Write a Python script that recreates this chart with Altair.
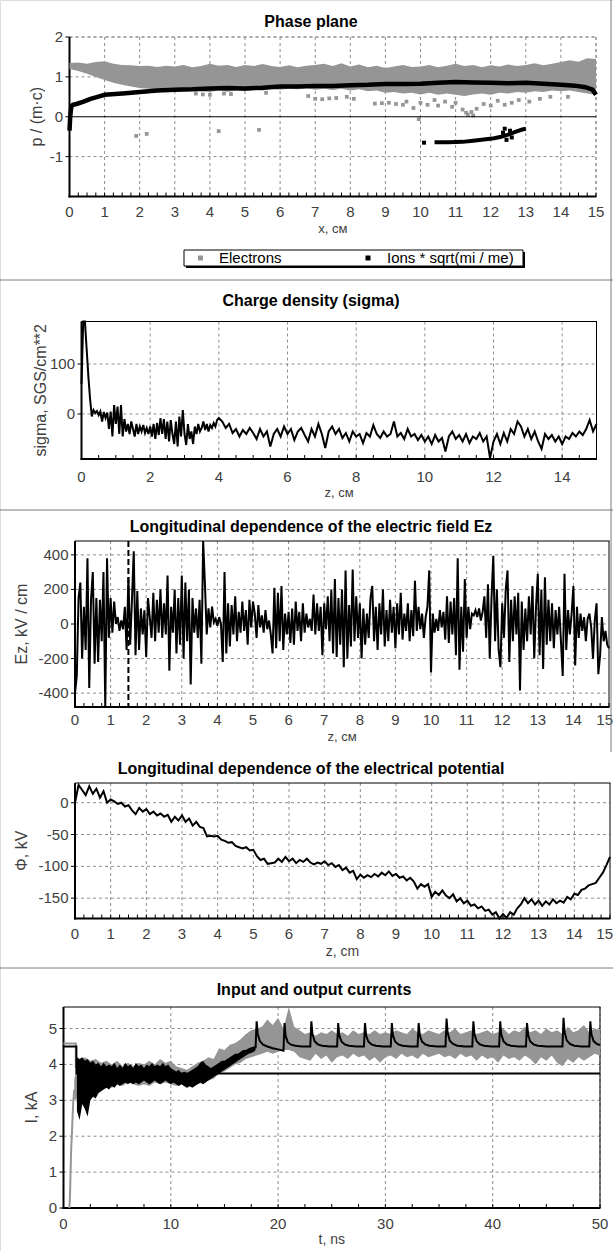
import altair as alt
import pandas as pd

FONT = "Liberation Sans"
GRAY = "#959595"
GRID = "#8c8c8c"
LAB = "#404040"
ONE = pd.DataFrame({"k": [0]})

# ---------------- Panel 1: phase plane ----------------
band_x = [round(i * 0.25, 2) for i in range(61)]
electron_hi = [1.35, 1.36, 1.33, 1.37, 1.39, 1.33, 1.30, 1.29, 1.27, 1.28,
               1.25, 1.28, 1.26, 1.30, 1.24, 1.27, 1.33, 1.28, 1.30, 1.25,
               1.30, 1.27, 1.32, 1.27, 1.25, 1.29, 1.24, 1.28, 1.30, 1.33,
               1.27, 1.34, 1.26, 1.31, 1.24, 1.28, 1.22, 1.26, 1.30, 1.25,
               1.26, 1.30, 1.24, 1.28, 1.33, 1.27, 1.30, 1.24, 1.29, 1.26,
               1.31, 1.27, 1.30, 1.34, 1.29, 1.33, 1.37, 1.42, 1.38, 1.47,
               1.45]
electron_lo = [1.20, 1.15, 1.08, 1.00, 0.92, 0.85, 0.80, 0.76, 0.72, 0.70,
               0.69, 0.68, 0.69, 0.70, 0.66, 0.64, 0.62, 0.66, 0.63, 0.66,
               0.64, 0.68, 0.66, 0.70, 0.68, 0.71, 0.69, 0.72, 0.68, 0.70,
               0.67, 0.70, 0.66, 0.69, 0.64, 0.66, 0.60, 0.62, 0.58, 0.60,
               0.56, 0.60, 0.55, 0.58, 0.55, 0.52, 0.56, 0.58, 0.55, 0.60,
               0.58, 0.62, 0.60, 0.64, 0.62, 0.66, 0.64, 0.66, 0.62, 0.58,
               0.55]
electron_pts_x = [3.6, 3.8, 4.0, 4.4, 4.6, 5.6, 6.8, 7.0, 7.2, 7.4, 7.6, 7.9, 8.1, 8.7, 8.9,
                  9.1, 9.3, 9.5, 9.6, 9.8, 10.0, 10.2, 10.4, 10.5, 10.7, 10.9, 11.0, 11.2,
                  11.3, 11.35, 11.45, 11.5, 11.6, 11.8, 12.0, 12.2, 12.4, 12.6, 12.8, 13.1,
                  13.4, 13.7, 14.2, 1.9, 2.2, 4.25, 5.4, 9.95]
electron_pts_p = [0.58, 0.56, 0.55, 0.58, 0.57, 0.60, 0.52, 0.45, 0.44, 0.46, 0.47, 0.50, 0.45,
                  0.33, 0.34, 0.35, 0.32, 0.30, 0.38, 0.22, 0.35, 0.30, 0.42, 0.28, 0.38, 0.25,
                  0.35, 0.18, 0.10, 0.05, 0.12, 0.03, 0.20, 0.32, 0.28, 0.40, 0.30, 0.35, 0.42,
                  0.38, 0.45, 0.50, 0.50, -0.48, -0.43, -0.36, -0.33, -0.06]
ion_x = [0.0, 0.02, 0.05, 0.1, 0.2, 0.4, 0.6, 0.8, 1.0, 1.3, 1.6, 2.0, 2.5, 3.0, 3.5, 4.0, 4.5,
         5.0, 5.5, 6.0, 6.5, 7.0, 7.5, 8.0, 8.5, 9.0, 9.5, 10.0, 10.5, 11.0, 11.5, 12.0, 12.5,
         13.0, 13.5, 14.0, 14.4, 14.7, 14.9, 15.0]
ion_p = [-0.35, 0.0, 0.25, 0.30, 0.32, 0.38, 0.45, 0.50, 0.55, 0.57, 0.59, 0.62, 0.66, 0.68,
         0.69, 0.71, 0.72, 0.71, 0.73, 0.76, 0.76, 0.77, 0.77, 0.79, 0.80, 0.82, 0.82, 0.83,
         0.85, 0.87, 0.86, 0.85, 0.84, 0.85, 0.83, 0.80, 0.78, 0.74, 0.68, 0.55]
ion_neg_x = [10.4, 10.8, 11.2, 11.5, 11.8, 12.1, 12.3, 12.5, 12.7, 12.9, 13.0]
ion_neg_p = [-0.64, -0.64, -0.63, -0.60, -0.57, -0.54, -0.50, -0.45, -0.38, -0.32, -0.30]
ion_pts_x = [10.1, 12.35, 12.45, 12.55, 12.6, 12.4]
ion_pts_p = [-0.65, -0.40, -0.58, -0.35, -0.52, -0.30]

# ---------------- Panel 2: charge density ----------------
sigma_z = [round(i * 0.05, 2) for i in range(81)] + [round(4.1 + i * 0.1, 1) for i in range(110)]
sigma_v = [60, 210, 190, 130, 75, 30, -5, 8, 2, 6, -2, 5, -15, 4, -8, 3, -30, 5, -45, 18,
           -20, 15, -40, 18, -45, -10, -35, -20, -40, -15, -30, -45, -20, -40, -25, -35, -22, -38, -28, -40,
           -25, -45, -20, -50, -18, -42, -8, -40, -10, -50, -15, -55, -12, -40, -60, -15, -65, -5, -45, 8,
           -40, -62, -20, -50, -35, -60, -25, -40, -20, -35, -28, -15, -32, -20, -35, -22, -28, -18, -25, -12,
           -8,
           -15, -28, -20, -38, -30, -45, -32, -40, -28, -38,
           -50, -30, -45, -35, -65, -40, -30, -45, -25, -40,
           -30, -52, -35, -28, -42, -55, -30, -45, -20, -40,
           -68, -35, -25, -40, -30, -48, -38, -55, -35, -45,
           -40, -58, -38, -45, -22, -40, -48, -35, -45, -40,
           -15, -45, -38, -50, -30, -45, -40, -52, -42, -55,
           -45, -60, -42, -55, -48, -75, -45, -35, -50, -42,
           -55, -40, -58, -45, -50, -38, -55, -45, -88, -55,
           -40, -60, -38, -55, -30, -40, -15, -25, -45, -30,
           -50, -35, -55, -70, -40, -50, -42, -55, -45, -60,
           -45, -50, -38, -45, -35, -42, -30, -12, -35, -20]

# ---------------- Panel 3: electric field ----------------
ez_z = [round(i * 0.05, 2) for i in range(301)]
ez_v = [-400, -300, 150, 240, -200, 100, -150, 380, -370, 140, 300, -230, 150, -220, 140, -100, 300, -488, 380, -80,
        150, -50, 130, 0, 40, -40, 20, -30, 100, -150, 270, -120, 140, 420, -180, 190, -150, 90, -60, 80,
        -190, 150, 40, -80, 180, -100, 140, -50, 200, -80, 120, -60, 280, -270, 100, -50, 200, -170, 150, -120,
        280, -200, 240, -100, 200, -350, 150, -50, 90, -80, 140, -230, 488, 230, -60, 90, -20, 100, 10, 30,
        -10, 40, 0, -220, 300, -170, 120, -130, 110, -60, 160, -100, 70, -50, 130, -40, 80, -120, 140, -20,
        130, 60, -80, 110, -20, 50, -50, 80, -30, 20, -60, -170, 210, -140, 180, -100, 220, -150, 60, -60,
        70, -110, 90, -120, 130, -40, 70, -100, 120, -50, 60, -20, 30, -40, 170, -60, 120, -40, 100, -180,
        120, -30, 160, -100, 200, -170, 260, -190, 150, -120, 200, -250, 310, -200, 110, -130, 315, -100, 160, -80,
        120, -200, 90, -120, 60, -80, 150, 220, -100, 100, -150, 120, -60, 200, -130, 80, -100, 140, -50, 100,
        -140, 120, -60, 180, -90, 60, -40, 120, -100, 80, -70, 250, -40, 100, -30, 60, -80, 40, 100, 310,
        -280, 60, -50, 30, -40, 80, -20, 70, -90, 160, -110, 130, -60, 150, -180, 380, -265, 100, -160, 260,
        -80, 100, -30, 60, 50, 80, 40, 90, 20, 70, 160, -80, 230, -200, 150, 395, -100, 200, -150, -250,
        120, -80, 200, 310, -220, 140, -100, 160, -60, 180, -385, 130, -150, 90, -100, 160, -60, 220, -200, 100,
        290, -180, 200, -260, 270, -120, 140, -100, 120, -140, 80, -60, 100, -100, -300, 290, -150, 80, -60, 60,
        220, -240, 100, -80, 60, -40, 40, -100, 30, 60, -20, -200, 20, 120, -290, -180, 40, -100, -40, -120,
        -140]

# ---------------- Panel 4: potential ----------------
phi_z = [round(i * 0.1, 1) for i in range(151)]
phi_v = [0, 28, 20, 12, 26, 14, 22, 8, 18, 0,
         5, 2, -2, 0, -6, -4, -12, -18, -8, -14,
         -10, -18, -14, -20, -17, -22, -19, -30, -22, -28,
         -20, -30, -25, -36, -30, -38, -40, -53, -52, -53,
         -52, -58, -60, -63, -62, -68, -70, -72, -70, -75,
         -74, -84, -90, -88, -96, -95, -94, -88, -93, -85,
         -92, -88, -95, -90, -93, -88, -94, -97, -94, -96,
         -92, -98, -95, -101, -98, -106, -102, -110, -107, -120,
         -113, -118, -114, -117, -112, -116, -110, -114, -108, -115,
         -112, -118, -116, -122, -118, -124, -135, -128, -132, -128,
         -148, -140, -145, -138, -146, -150, -144, -155, -150, -158,
         -154, -162, -160, -166, -163, -170, -168, -176, -172, -183,
         -175, -181, -172, -176, -166, -160, -150, -158, -152, -160,
         -154, -162, -155, -160, -152, -158, -154, -157, -148, -152,
         -143, -145, -137, -135, -130, -128, -126, -118, -110, -98,
         -85]

# ---------------- Panel 5: currents ----------------
in_t = [0, 1.2, 1.2, 50]
in_i = [4.5, 4.5, 3.75, 3.75]
gstep_t = [0, 1.15, 1.15]
gstep_i = [4.58, 4.58, 3.9]
grise_t = [0.55, 0.6, 0.7, 0.8, 0.9, 1.0]
grise_i = [0.0, 0.3, 1.5, 2.2, 2.9, 3.3]
gband_t = [round(1.0 + 0.5 * i, 1) for i in range(99)]
gband_lo = [3.0, 3.1, 3.2, 3.2, 3.3, 3.35, 3.4, 3.35, 3.45, 3.4,
            3.5, 3.45, 3.4, 3.45, 3.4, 3.5, 3.45, 3.5, 3.45, 3.4,
            3.45, 3.35, 3.4, 3.45, 3.5, 3.55, 3.6, 3.75, 3.8, 3.9,
            4.0, 4.05, 4.15, 4.2, 4.25, 4.3, 4.35, 4.3, 4.35, 4.4,
            4.4, 4.35, 4.2, 4.15, 4.1, 4.3, 4.15, 4.25, 4.05, 4.2,
            4.25, 4.15, 4.3, 4.2, 4.25, 4.1, 4.2, 4.05, 4.2, 4.25,
            4.15, 4.3, 4.2, 4.25, 4.15, 4.3, 4.2, 4.25, 4.3, 4.2,
            4.25, 4.15, 4.3, 4.2, 4.25, 4.1, 4.25, 4.15, 4.2, 4.05,
            4.25, 4.15, 4.2, 4.1, 4.25, 4.15, 4.0, 4.2, 4.1, 4.25,
            4.05, 3.95, 4.15, 4.05, 4.2, 4.1, 4.2, 4.3, 4.25]
gband_hi = [3.6, 4.1, 4.2, 4.1, 4.15, 4.05, 4.1, 4.0, 4.1, 3.95,
            4.05, 3.95, 4.05, 4.0, 4.1, 4.0, 4.15, 4.05, 4.1, 3.95,
            3.9, 3.85, 3.95, 4.05, 4.1, 4.2, 4.15, 4.45, 4.4, 4.55,
            4.6, 4.7, 4.85, 4.95, 5.0, 5.05, 5.25, 5.1, 5.3, 5.0,
            5.6, 5.05, 4.95, 4.85, 4.9, 4.8, 4.9, 4.85, 4.95, 4.85,
            4.9, 4.8, 4.95, 4.85, 4.9, 4.85, 4.95, 4.85, 4.9, 4.85,
            4.95, 4.9, 4.85, 5.0, 4.9, 4.85, 4.95, 4.9, 4.85, 4.95,
            4.9, 5.0, 4.85, 4.9, 4.95, 4.85, 4.9, 4.95, 4.85, 4.9,
            5.0, 4.85, 4.95, 4.9, 5.05, 4.9, 4.95, 4.85, 5.0, 4.9,
            4.95, 4.85, 5.05, 4.9, 4.95, 5.1, 4.9, 5.0, 4.95]
bband_t = [round(1.25 + 0.25 * i, 2) for i in range(67)] + [17.9]
bband_lo = [2.7, 2.45, 2.9, 2.75, 2.55, 3.0, 3.1, 3.05, 3.2, 3.25,
            3.3, 3.35, 3.3, 3.4, 3.35, 3.45, 3.4, 3.45, 3.5, 3.45,
            3.5, 3.45, 3.5, 3.45, 3.5, 3.55, 3.5, 3.45, 3.5, 3.55,
            3.5, 3.45, 3.5, 3.55, 3.5, 3.45, 3.5, 3.45, 3.4, 3.45,
            3.4, 3.35, 3.4, 3.35, 3.4, 3.45, 3.5, 3.45, 3.5, 3.55,
            3.6, 3.65, 3.7, 3.75, 3.8, 3.85, 3.9, 3.95, 4.0, 4.05,
            4.1, 4.15, 4.2, 4.25, 4.3, 4.32, 4.35, 4.4]
bband_hi = [4.2, 4.15, 4.2, 4.1, 4.15, 4.05, 4.1, 4.0, 4.05, 3.95,
            4.05, 3.95, 4.0, 3.95, 4.05, 3.9, 4.0, 3.9, 4.05, 3.95,
            4.0, 3.9, 4.05, 3.95, 4.0, 3.9, 4.0, 3.95, 4.05, 3.95,
            4.0, 3.95, 4.05, 3.95, 4.0, 3.9, 3.85, 3.8, 3.85, 3.75,
            3.8, 3.75, 3.8, 3.85, 3.9, 3.95, 4.05, 4.1, 4.0, 3.95,
            3.9, 3.95, 4.0, 4.05, 4.1, 4.1, 4.15, 4.2, 4.25, 4.3,
            4.3, 4.35, 4.4, 4.4, 4.45, 4.48, 4.5, 4.5]
saw_t = [17.9, 18.0, 18.1, 18.3, 18.6, 19.0, 19.5, 20.0, 20.5,
         20.6, 20.7, 20.9, 21.2, 21.6, 22.2, 23.0,
         23.1, 23.2, 23.4, 23.7, 24.1, 24.8, 25.5,
         25.6, 25.7, 25.9, 26.2, 26.6, 27.3, 28.0,
         28.1, 28.2, 28.4, 28.7, 29.1, 29.8, 30.5,
         30.6, 30.7, 30.9, 31.2, 31.6, 32.3, 33.0,
         33.1, 33.2, 33.4, 33.7, 34.1, 34.8, 35.6,
         35.7, 35.8, 36.0, 36.3, 36.7, 37.4, 38.1,
         38.2, 38.3, 38.5, 38.8, 39.2, 39.9, 40.6,
         40.7, 40.8, 41.0, 41.3, 41.7, 42.4, 43.1,
         43.2, 43.3, 43.5, 43.8, 44.2, 45.0, 46.5,
         46.6, 46.7, 46.9, 47.2, 47.6, 48.3, 49.0,
         49.1, 49.2, 49.4, 49.7, 50.0]
saw_i = [4.45, 5.2, 4.85, 4.65, 4.55, 4.5, 4.45, 4.42, 4.38,
         5.15, 4.8, 4.62, 4.55, 4.52, 4.5, 4.5,
         5.2, 4.85, 4.65, 4.56, 4.52, 4.5, 4.5,
         5.15, 4.82, 4.64, 4.56, 4.52, 4.5, 4.5,
         5.15, 4.82, 4.64, 4.56, 4.52, 4.5, 4.5,
         5.15, 4.82, 4.64, 4.56, 4.52, 4.5, 4.5,
         5.15, 4.82, 4.64, 4.56, 4.52, 4.5, 4.5,
         5.28, 4.88, 4.66, 4.57, 4.52, 4.5, 4.5,
         5.2, 4.84, 4.65, 4.56, 4.52, 4.5, 4.5,
         5.2, 4.84, 4.65, 4.56, 4.52, 4.5, 4.5,
         5.15, 4.82, 4.64, 4.56, 4.52, 4.5, 4.5,
         5.3, 4.9, 4.67, 4.57, 4.52, 4.5, 4.5,
         5.2, 4.84, 4.65, 4.57, 4.54]

# ---------------- tick label arrays ----------------
x15_ticks = list(range(16))
x15_labels = [str(v) for v in x15_ticks]
x14_ticks = list(range(0, 15, 2))
x14_labels = [str(v) for v in x14_ticks]
t_ticks = list(range(0, 51, 10))
t_labels = [str(v) for v in t_ticks]
p_ticks = [2, 1, 0, -1]
sig_ticks = [100, 0]
ez_ticks = [400, 200, 0, -200, -400]
phi_ticks = [0, -50, -100, -150]
cur_ticks = [5, 4, 3, 2, 1, 0]

# ---------------- panel geometry (page pixels) ----------------
P1 = dict(l=69.5, r=596, t=37, b=196.5, xd=[0, 15], yd=[-2, 2])
P2 = dict(l=81.5, r=596.5, t=321.5, b=459, xd=[0, 15], yd=[-90, 185])
P3 = dict(l=75, r=609, t=541, b=707, xd=[0, 15], yd=[-480, 480])
P4 = dict(l=75, r=610, t=783, b=918.5, xd=[0, 15], yd=[-182, 31])
P5 = dict(l=63.5, r=600, t=1007, b=1208, xd=[0, 50], yd=[0, 5.6])


def S(dom, rng):
    return alt.Scale(domain=dom, range=rng, nice=False, zero=False, clamp=True)


def XF(p, f="x"):
    return alt.X(f"{f}:Q", scale=S(p["xd"], [p["l"], p["r"]]), axis=None)


def YF(p, f="y"):
    return alt.Y(f"{f}:Q", scale=S(p["yd"], [p["b"], p["t"]]), axis=None)


def hrule(x1, x2, y, color="black", w=1, dash=None):
    kw = dict(color=color, strokeWidth=w)
    if dash:
        kw["strokeDash"] = dash
    return alt.Chart(ONE).mark_rule(**kw).encode(x=alt.value(x1), x2=alt.value(x2), y=alt.value(y))


def vrule(x, y1, y2, color="black", w=1, dash=None):
    kw = dict(color=color, strokeWidth=w)
    if dash:
        kw["strokeDash"] = dash
    return alt.Chart(ONE).mark_rule(**kw).encode(x=alt.value(x), y=alt.value(y1), y2=alt.value(y2))


def box(x1, x2, y1, y2, color):
    return alt.Chart(ONE).mark_rect(color=color).encode(
        x=alt.value(x1), x2=alt.value(x2), y=alt.value(y1), y2=alt.value(y2))


def txt(s, x, y, size=15, weight="normal", align="center", angle=0, color="black"):
    return alt.Chart(ONE).mark_text(text=s, fontSize=size, fontWeight=weight, align=align,
                                    baseline="middle", angle=angle, font=FONT, color=color).encode(
        x=alt.value(x), y=alt.value(y))


def frame_layers(p, xticks, xlabels, xlab_y, yticks, minor, ygrid, dashed_frame=False):
    L = []
    L.append(alt.Chart(pd.DataFrame({"x": xticks})).mark_rule(
        color=GRID, strokeDash=[3, 3], strokeWidth=1).encode(
        x=XF(p), y=alt.value(p["t"]), y2=alt.value(p["b"])))
    L.append(alt.Chart(pd.DataFrame({"y": ygrid})).mark_rule(
        color=GRID, strokeDash=[3, 3], strokeWidth=1).encode(
        y=YF(p), x=alt.value(p["l"]), x2=alt.value(p["r"])))
    if dashed_frame:
        L.append(hrule(p["l"], p["r"], p["t"], GRID, 1, [3, 3]))
        L.append(vrule(p["r"], p["t"], p["b"], GRID, 1, [3, 3]))
    else:
        L.append(hrule(p["l"], p["r"] + 0.5, p["t"], "black", 1))
        L.append(vrule(p["r"], p["t"], p["b"], "black", 1))
    L.append(alt.Chart(pd.DataFrame({"x": minor})).mark_rule(color="black", strokeWidth=1).encode(
        x=XF(p), y=alt.value(p["b"] - 4), y2=alt.value(p["b"])))
    L.append(alt.Chart(pd.DataFrame({"y": yticks})).mark_rule(color="black", strokeWidth=1).encode(
        y=YF(p), x=alt.value(p["l"] - 4), x2=alt.value(p["l"])))
    L.append(vrule(p["l"], p["t"], p["b"] + 1, "black", 2))
    L.append(hrule(p["l"] - 1, p["r"] + 0.5, p["b"], "black", 2))
    L.append(alt.Chart(pd.DataFrame({"x": xticks, "t": xlabels})).mark_text(
        fontSize=15, font=FONT, color=LAB, baseline="middle", align="center").encode(
        x=XF(p), y=alt.value(xlab_y), text="t:N"))
    L.append(alt.Chart(pd.DataFrame({"y": yticks, "t": [str(v) for v in yticks]})).mark_text(
        fontSize=15, font=FONT, color=LAB, baseline="middle", align="right").encode(
        y=YF(p), x=alt.value(p["l"] - 6.5), text="t:N"))
    return L


layers = []

# ---- panel 1 ----
layers += frame_layers(P1, x15_ticks, x15_labels, 212, p_ticks,
                       [round(i * 0.25, 2) for i in range(61)], [2, 1, -1], dashed_frame=True)
layers += [
    alt.Chart(pd.DataFrame({"x": band_x, "y": electron_lo, "hi": electron_hi})).mark_area(
        color=GRAY).encode(x=XF(P1), y=YF(P1), y2="hi:Q"),
    alt.Chart(pd.DataFrame({"x": electron_pts_x, "y": electron_pts_p})).mark_square(
        color=GRAY, size=14, opacity=1).encode(x=XF(P1), y=YF(P1)),
    alt.Chart(pd.DataFrame({"y": [0]})).mark_rule(color="black", strokeWidth=1).encode(
        y=YF(P1), x=alt.value(P1["l"]), x2=alt.value(P1["r"])),
    alt.Chart(pd.DataFrame({"x": ion_x, "y": ion_p})).mark_line(
        color="black", strokeWidth=4.5).encode(x=XF(P1), y=YF(P1)),
    alt.Chart(pd.DataFrame({"x": ion_neg_x, "y": ion_neg_p})).mark_line(
        color="black", strokeWidth=4).encode(x=XF(P1), y=YF(P1)),
    alt.Chart(pd.DataFrame({"x": ion_pts_x, "y": ion_pts_p})).mark_square(
        color="black", size=16, opacity=1).encode(x=XF(P1), y=YF(P1)),
    txt("Phase plane", 311, 22, size=16, weight="bold"),
    txt("x, \u0441\u043c", (P1["l"] + P1["r"]) / 2, 229, size=13, color=LAB),
    txt("p / (m\u00b7c)", 37, (P1["t"] + P1["b"]) / 2, size=16, angle=270, color=LAB),
    # legend
    box(186, 525, 252, 268, "black"),
    alt.Chart(ONE).mark_rect(fill="white", stroke="black", strokeWidth=1).encode(
        x=alt.value(184), x2=alt.value(523), y=alt.value(250), y2=alt.value(266)),
    alt.Chart(ONE).mark_square(color=GRAY, size=25, opacity=1).encode(
        x=alt.value(200.5), y=alt.value(258)),
    txt("Electrons", 219, 258, size=15, align="left"),
    alt.Chart(ONE).mark_square(color="black", size=25, opacity=1).encode(
        x=alt.value(368), y=alt.value(258)),
    txt("Ions * sqrt(mi / me)", 387, 258, size=15, align="left"),
]

# ---- panel 2 ----
layers += frame_layers(P2, x14_ticks, x14_labels, 477, sig_ticks,
                       [round(i * 0.5, 1) for i in range(31)], [100, 0])
layers += [
    alt.Chart(pd.DataFrame({"x": sigma_z, "y": sigma_v})).mark_line(
        color="black", strokeWidth=2).encode(x=XF(P2), y=YF(P2)),
    txt("Charge density (sigma)", 311, 301, size=16, weight="bold"),
    txt("z, \u0441\u043c", (P2["l"] + P2["r"]) / 2, 493, size=13, color=LAB),
    txt("sigma, SGS/cm**2", 41, (P2["t"] + P2["b"]) / 2, size=16, angle=270, color=LAB),
]

# ---- panel 3 ----
layers += frame_layers(P3, x15_ticks[:-1], x15_labels[:-1], 720, ez_ticks,
                       [round(i * 0.25, 2) for i in range(61)], [400, 200, 0, -200, -400])
layers += [
    alt.Chart(pd.DataFrame({"x": ez_z, "y": ez_v})).mark_line(
        color="black", strokeWidth=2).encode(x=XF(P3), y=YF(P3)),
    alt.Chart(pd.DataFrame({"x": [1.5]})).mark_rule(
        color="black", strokeWidth=2, strokeDash=[6, 3]).encode(
        x=XF(P3), y=alt.value(P3["t"]), y2=alt.value(P3["b"])),
    alt.Chart(pd.DataFrame({"x": [15], "t": ["15"]})).mark_text(
        fontSize=15, font=FONT, color=LAB, baseline="middle", align="right", dx=4).encode(
        x=XF(P3), y=alt.value(720), text="t:N"),
    txt("Longitudinal dependence of the electric field Ez", 311, 527, size=16, weight="bold"),
    txt("z, \u0441\u043c", (P3["l"] + P3["r"]) / 2, 737, size=13, color=LAB),
    txt("Ez, kV / cm", 21.5, (P3["t"] + P3["b"]) / 2, size=16, angle=270, color=LAB),
]

# ---- panel 4 ----
layers += frame_layers(P4, x15_ticks[:-1], x15_labels[:-1], 934, phi_ticks,
                       [round(i * 0.25, 2) for i in range(61)], [0, -50, -100, -150])
layers += [
    alt.Chart(pd.DataFrame({"x": phi_z, "y": phi_v})).mark_line(
        color="black", strokeWidth=2).encode(x=XF(P4), y=YF(P4)),
    alt.Chart(pd.DataFrame({"x": [15], "t": ["15"]})).mark_text(
        fontSize=15, font=FONT, color=LAB, baseline="middle", align="right", dx=3).encode(
        x=XF(P4), y=alt.value(934), text="t:N"),
    txt("Longitudinal dependence of the electrical potential", 311, 769, size=16, weight="bold"),
    txt("z, cm", (P4["l"] + P4["r"]) / 2, 952, size=14, color=LAB),
    txt("\u03a6, kV", 22, (P4["t"] + P4["b"]) / 2, size=16, angle=270, color=LAB),
]

# ---- panel 5 ----
layers += frame_layers(P5, t_ticks, t_labels, 1224, cur_ticks,
                       [round(i * 2.5, 1) for i in range(21)], [5, 4, 3, 2, 1])
layers += [
    alt.Chart(pd.DataFrame({"x": gband_t, "y": gband_lo, "hi": gband_hi})).mark_area(
        color=GRAY).encode(x=XF(P5), y=YF(P5), y2="hi:Q"),
    alt.Chart(pd.DataFrame({"x": gstep_t, "y": gstep_i})).mark_line(
        color=GRAY, strokeWidth=2).encode(x=XF(P5), y=YF(P5)),
    alt.Chart(pd.DataFrame({"x": grise_t, "y": grise_i})).mark_line(
        color=GRAY, strokeWidth=2).encode(x=XF(P5), y=YF(P5)),
    alt.Chart(pd.DataFrame({"x": bband_t, "y": bband_lo, "hi": bband_hi})).mark_area(
        color="black").encode(x=XF(P5), y=YF(P5), y2="hi:Q"),
    alt.Chart(pd.DataFrame({"x": in_t, "y": in_i})).mark_line(
        color="black", strokeWidth=2).encode(x=XF(P5), y=YF(P5)),
    alt.Chart(pd.DataFrame({"x": saw_t, "y": saw_i})).mark_line(
        color="black", strokeWidth=2).encode(x=XF(P5), y=YF(P5)),
    txt("Input and output currents", 314, 990, size=16, weight="bold"),
    txt("t, ns", (P5["l"] + P5["r"]) / 2, 1240, size=14, color=LAB),
    txt("I, kA", 32, (P5["t"] + P5["b"]) / 2, size=16, angle=270, color=LAB),
]

# ---- separators and right border ----
layers += [
    hrule(0, 613, 280, "#7a7a7a", 1),
    hrule(0, 613, 510, "#7a7a7a", 1),
    hrule(0, 613, 968, "#7a7a7a", 1),
    vrule(611, 0, 752, "#7a7a7a", 1),
]

chart = alt.layer(*layers).resolve_scale(x="independent", y="independent").properties(
    width=613, height=1251, autosize=alt.AutoSizeParams(type="none"), padding=0
).configure_view(strokeWidth=0).configure(font=FONT)

chart.save("out.html", embed_options={"renderer": "svg", "actions": False})
